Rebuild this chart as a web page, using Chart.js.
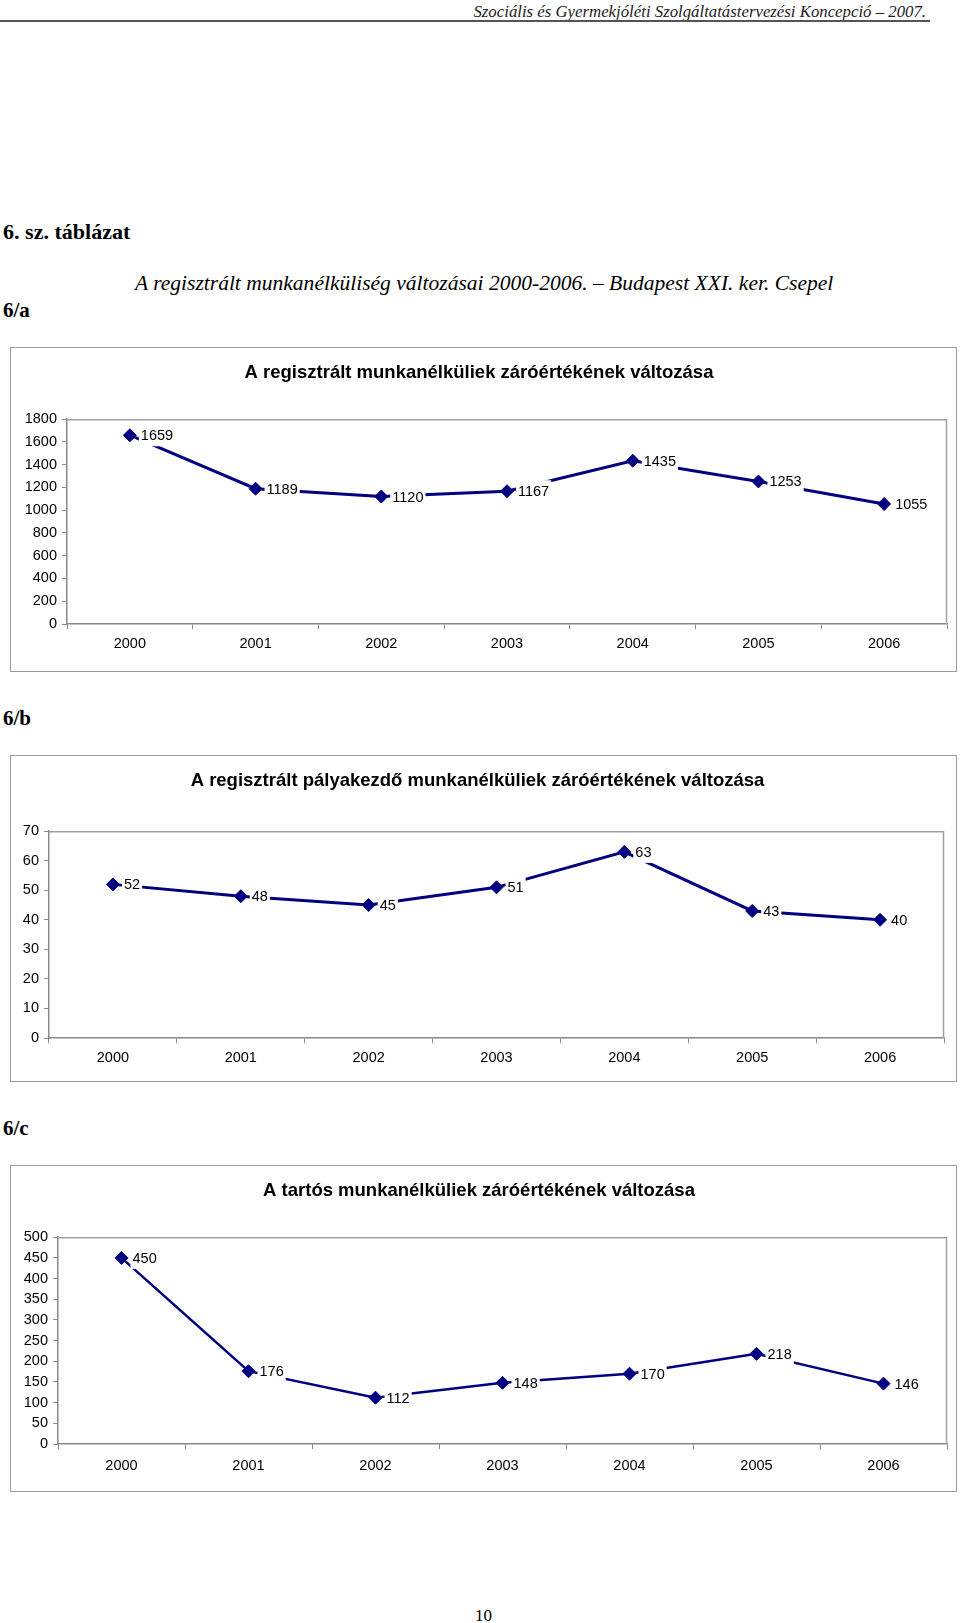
<!DOCTYPE html>
<html>
<head>
<meta charset="utf-8">
<script src="https://cdn.jsdelivr.net/npm/chart.js@4.4.0/dist/chart.umd.min.js"></script>
<style>
  html, body { margin: 0; padding: 0; background: #fff; }
  #page { position: relative; width: 960px; height: 1623px; overflow: hidden; background: #fff; }
  .t { position: absolute; white-space: nowrap; color: #000; font-family: "Liberation Serif", "DejaVu Serif", serif; transform-origin: left center; }
  .box { position: absolute; border: 1px solid #9a9a9a; box-sizing: border-box; background: #fff; }
  .box canvas { position: absolute; left: 0; top: 0; }
</style>
</head>
<body>
<div id="page">
  <div class="t" style="right:34px; top:3px; font-size:16.8px; line-height:18px; font-style:italic; color:#222; transform-origin:right center;">Szociális és Gyermekjóléti Szolgáltatástervezési Koncepció – 2007.</div>
  <div style="position:absolute; left:0; top:20px; width:930px; height:2px; background:#555;"></div>

  <div class="t" style="left:3px; top:220px; font-size:21px; line-height:24px; font-weight:bold; transform:scaleX(1.05);">6. sz. táblázat</div>
  <div class="t" style="left:135px; top:271px; font-size:20.5px; line-height:24px; font-style:italic; transform:scaleX(1.05);">A regisztrált munkanélküliség változásai 2000-2006. – Budapest XXI. ker. Csepel</div>
  <div class="t" style="left:3px; top:298px; font-size:21px; line-height:24px; font-weight:bold;">6/a</div>
  <div class="t" style="left:3px; top:706px; font-size:21px; line-height:24px; font-weight:bold;">6/b</div>
  <div class="t" style="left:3px; top:1116px; font-size:21px; line-height:24px; font-weight:bold;">6/c</div>
  <div class="t" style="left:475px; top:1606px; font-size:17px; line-height:20px;">10</div>

  <div class="box" style="left:10px; top:347px; width:947px; height:325px;"><canvas id="c1" width="946" height="324"></canvas></div>
  <div class="box" style="left:10px; top:755px; width:947px; height:327px;"><canvas id="c2" width="946" height="326"></canvas></div>
  <div class="box" style="left:10px; top:1165px; width:947px; height:327px;"><canvas id="c3" width="946" height="326"></canvas></div>
</div>
<script>
// ---- data ----
const years = ['2000', '2001', '2002', '2003', '2004', '2005', '2006'];
const registeredUnemployed = [1659, 1189, 1120, 1167, 1435, 1253, 1055];
const careerStarterUnemployed = [52, 48, 45, 51, 63, 43, 40];
const longTermUnemployed = [450, 176, 112, 148, 170, 218, 146];

const yTicksA = [0, 200, 400, 600, 800, 1000, 1200, 1400, 1600, 1800];
const yTicksB = [0, 10, 20, 30, 40, 50, 60, 70];
const yTicksC = [0, 50, 100, 150, 200, 250, 300, 350, 400, 450, 500];

const titleA = 'A regisztrált munkanélküliek záróértékének változása';
const titleB = 'A regisztrált pályakezdő munkanélküliek záróértékének változása';
const titleC = 'A tartós munkanélküliek záróértékének változása';

// ---- styling ----
const FONT = '"Liberation Sans", Arial, sans-serif';
const NAVY = '#000080';
const AXIS = '#8a8a8a';
const FRAME = '#a0a0a0';

const plotFrame = {
  id: 'plotFrame',
  beforeDatasetsDraw(chart) {
    const a = chart.chartArea, ctx = chart.ctx;
    ctx.save();
    ctx.strokeStyle = FRAME;
    ctx.lineWidth = 1.5;
    ctx.beginPath();
    ctx.moveTo(a.left, a.top + 0.5);
    ctx.lineTo(a.right - 0.5, a.top + 0.5);
    ctx.lineTo(a.right - 0.5, a.bottom);
    ctx.stroke();
    ctx.restore();
  }
};

const valueLabels = {
  id: 'valueLabels',
  afterDatasetsDraw(chart) {
    const ctx = chart.ctx;
    const meta = chart.getDatasetMeta(0);
    const vals = chart.data.datasets[0].data;
    ctx.save();
    ctx.font = '14.5px ' + FONT;
    ctx.textBaseline = 'middle';
    ctx.textAlign = 'left';
    meta.data.forEach((pt, i) => {
      const txt = String(vals[i]);
      const w = ctx.measureText(txt).width;
      const x = pt.x + 11, y = pt.y;
      ctx.fillStyle = '#fff';
      ctx.fillRect(x - 2, y - 11, w + 4, 22);
      ctx.fillStyle = '#000';
      ctx.fillText(txt, x, y + 1);
    });
    ctx.restore();
  }
};

function makeChart(id, values, yTicks, titleText, g) {
  const step = yTicks[1] - yTicks[0];
  return new Chart(document.getElementById(id), {
    type: 'line',
    data: {
      labels: years,
      datasets: [{
        data: values,
        borderColor: NAVY,
        backgroundColor: NAVY,
        borderWidth: g.lineW,
        tension: 0,
        pointStyle: 'rectRot',
        pointRadius: 6.5,
        pointBorderWidth: 1,
        pointBackgroundColor: NAVY,
        pointBorderColor: NAVY,
        clip: false
      }]
    },
    options: {
      responsive: false,
      animation: false,
      events: [],
      layout: { padding: { left: 0, right: g.padRight, top: 0, bottom: 0 } },
      plugins: {
        legend: { display: false },
        tooltip: { enabled: false },
        title: {
          display: true,
          text: titleText,
          color: '#000',
          font: { family: FONT, size: 18.5, weight: 'bold' },
          padding: { top: g.titleTop, bottom: g.titleBottom }
        }
      },
      scales: {
        x: {
          type: 'category',
          offset: true,
          grid: { display: true, offset: true, drawOnChartArea: false, drawTicks: true, tickLength: 5, color: AXIS, lineWidth: 1 },
          border: { display: true, color: AXIS, width: 1.5 },
          ticks: { color: '#000', font: { family: FONT, size: 14.5 }, padding: g.xPad, maxRotation: 0, autoSkip: false },
          afterFit(s) { s.height = g.xHeight; }
        },
        y: {
          min: yTicks[0],
          max: yTicks[yTicks.length - 1],
          grid: { display: true, drawOnChartArea: false, drawTicks: true, tickLength: 5, color: AXIS, lineWidth: 1 },
          border: { display: true, color: AXIS, width: 1.5 },
          ticks: {
            stepSize: step, color: '#000', font: { family: FONT, size: 14.5 }, padding: 5,
            callback: (v) => String(v)
          },
          afterFit(s) { s.width = g.yWidth; }
        }
      }
    },
    plugins: [plotFrame, valueLabels]
  });
}

makeChart('c1', registeredUnemployed, yTicksA, titleA,
  { yWidth: 56, xHeight: 48, padRight: 10, titleTop: 14, titleBottom: 35, xPad: 6, lineW: 3 });
makeChart('c2', careerStarterUnemployed, yTicksB, titleB,
  { yWidth: 38, xHeight: 44, padRight: 13, titleTop: 14, titleBottom: 39, xPad: 6, lineW: 3 });
makeChart('c3', longTermUnemployed, yTicksC, titleC,
  { yWidth: 47, xHeight: 48, padRight: 10, titleTop: 14, titleBottom: 35, xPad: 8, lineW: 2.5 });
</script>
</body>
</html>
